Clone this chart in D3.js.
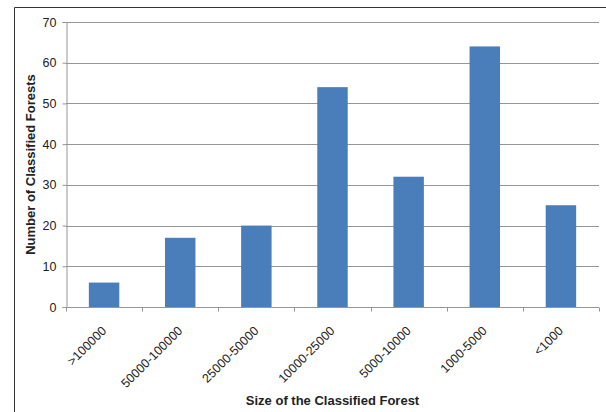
<!DOCTYPE html>
<html>
<head>
<meta charset="utf-8">
<script src="https://cdn.jsdelivr.net/npm/d3@7"></script>
<style>
  body { margin: 0; background: #fff; }
  text { font-family: "Liberation Sans", Arial, sans-serif; fill: #222; }
  .axis--label { font-weight: bold; font-size: 13px; }
</style>
</head>
<body>
<div id="barChart"></div>
<script>
// data
var categories = [">100000", "50000-100000", "25000-50000", "10000-25000", "5000-10000", "1000-5000", "<1000"];
var counts = [6, 17, 20, 54, 32, 64, 25];
var yTicks = [0, 10, 20, 30, 40, 50, 60, 70];

var data = categories.map(function(c, i) { return {group: c, value: counts[i]}; });

var margin = {top: 22, right: 7, bottom: 105, left: 66},
    width = 606 - margin.left - margin.right,
    height = 412 - margin.top - margin.bottom;

var root = d3.select("#barChart")
    .append("svg")
        .attr("width", 606)
        .attr("height", 412);

// outer frame (left and top edges visible)
root.append("path")
    .attr("d", "M14.5,412 L14.5,7.5 L606,7.5")
    .attr("fill", "none")
    .attr("stroke", "#333")
    .attr("stroke-width", 1);

var svg = root.append("g")
    .attr("transform", "translate(" + margin.left + "," + margin.top + ")");

var x = d3.scaleBand()
    .domain(categories)
    .range([0, width])
    .paddingInner(0.6)
    .paddingOuter(0.3);

var xTickScale = d3.scaleLinear().domain([0, categories.length]).range([0, width]);

var y = d3.scaleLinear()
    .domain([0, 70])
    .range([height, 0]);

// gridlines
svg.append("g")
    .selectAll("line")
    .data(yTicks.slice(1))
    .enter().append("line")
        .attr("x1", 0)
        .attr("x2", width)
        .attr("y1", function(d) { return Math.round(y(d)) + 0.5; })
        .attr("y2", function(d) { return Math.round(y(d)) + 0.5; })
        .attr("stroke", "#969696")
        .attr("stroke-width", 1);

// bars
svg.append("g")
    .selectAll("rect")
    .data(data)
    .enter().append("rect")
        .attr("x", function(d) { return x(d.group); })
        .attr("y", function(d) { return y(d.value); })
        .attr("width", x.bandwidth())
        .attr("height", function(d) { return height - y(d.value); })
        .attr("fill", "#4a7ebb");

// Y axis
var yAxis = svg.append("g")
    .attr("transform", "translate(0.5,0)")
    .call(d3.axisLeft(y).tickValues(yTicks).tickSize(4).tickPadding(6));
yAxis.selectAll("text").style("font-size", "12.5px");
yAxis.selectAll("line, path").attr("stroke", "#969696");

// X axis line with tick marks between categories
var xAxis = svg.append("g")
    .attr("transform", "translate(0," + (Math.round(height) + 0.5) + ")");
xAxis.append("line")
    .attr("x1", 0).attr("x2", width)
    .attr("stroke", "#969696");
xAxis.selectAll(".tk")
    .data(d3.range(categories.length + 1))
    .enter().append("line")
        .attr("class", "tk")
        .attr("x1", function(d) { return Math.round(xTickScale(d)) + 0.5; })
        .attr("x2", function(d) { return Math.round(xTickScale(d)) + 0.5; })
        .attr("y1", 0).attr("y2", 4)
        .attr("stroke", "#969696");

xAxis.selectAll(".lbl")
    .data(categories)
    .enter().append("text")
        .attr("class", "lbl")
        .attr("text-anchor", "end")
        .style("font-size", "12.5px")
        .attr("transform", function(d) {
            return "translate(" + (x(d) + x.bandwidth() / 2 + 3) + ",24) rotate(-45)";
        })
        .text(function(d) { return d; });

// axis titles
svg.append("text")
    .attr("class", "axis--label")
    .attr("text-anchor", "middle")
    .attr("x", width / 2)
    .attr("y", height + 98)
    .text("Size of the Classified Forest");

svg.append("text")
    .attr("class", "axis--label")
    .attr("text-anchor", "middle")
    .attr("transform", "rotate(-90)")
    .attr("x", -height / 2)
    .attr("y", -margin.left + 35)
    .text("Number of Classified Forests");
</script>
</body>
</html>
